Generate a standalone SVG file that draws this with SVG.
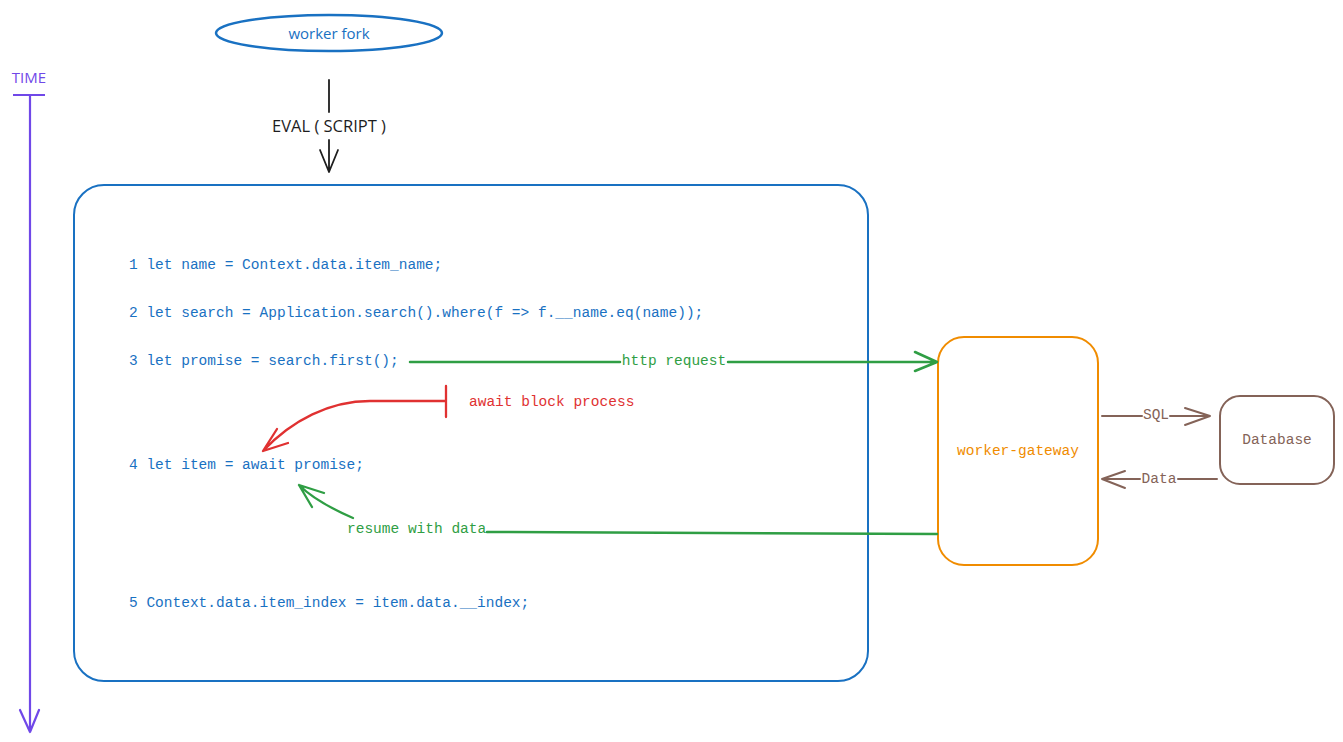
<svg xmlns="http://www.w3.org/2000/svg" width="1343" height="742" viewBox="0 0 1343 742">
<style>
.code{font-family:"Liberation Mono","DejaVu Sans Mono",monospace;font-size:14.5px}
.sans{font-family:"Open Sans","Noto Sans",sans-serif}
.blue{fill:#1971c2}
.ln{fill:none;stroke-linecap:round;stroke-linejoin:round}
</style>
<rect width="1343" height="742" fill="#ffffff"/>
<g id="time">
<text x="29" y="83" class="sans" font-size="15" fill="#7048e8" text-anchor="middle">TIME</text>
<line x1="13" y1="95" x2="45" y2="95" stroke="#7048e8" stroke-width="2"/>
<path class="ln" d="M30 95 L30 732 M20 710 L30 732 L39 710" stroke="#7048e8" stroke-width="2.2"/>
</g>
<g id="worker-fork">
<ellipse cx="329" cy="33" rx="113" ry="18" fill="none" stroke="#1971c2" stroke-width="2.5"/>
<text x="329" y="38.5" class="sans blue" font-size="15" text-anchor="middle">worker fork</text>
</g>
<g id="script-box">
<rect x="74" y="185" width="794" height="496" rx="30" fill="none" stroke="#1971c2" stroke-width="2"/>
<text x="129" y="269" class="code blue">1 let name = Context.data.item_name;</text>
<text x="129" y="317" class="code blue">2 let search = Application.search().where(f =&gt; f.__name.eq(name));</text>
<text x="129" y="365" class="code blue">3 let promise = search.first();</text>
<text x="129" y="469" class="code blue">4 let item = await promise;</text>
<text x="129" y="607" class="code blue">5 Context.data.item_index = item.data.__index;</text>
</g>
<g id="worker-gateway">
<rect x="938" y="337" width="160" height="228" rx="26" fill="none" stroke="#f08c00" stroke-width="2"/>
<text x="1018" y="455" class="code" fill="#f08c00" text-anchor="middle">worker-gateway</text>
</g>
<g id="database">
<rect x="1220" y="396" width="114" height="88" rx="20" fill="none" stroke="#846358" stroke-width="2"/>
<text x="1277" y="444" class="code" fill="#846358" text-anchor="middle">Database</text>
</g>
<g id="connectors">
<path class="ln" d="M329 80 L329 112 M329 140 L329 172 M320 150 L329 172 L338 150" stroke="#1e1e1e" stroke-width="1.8"/>
<text x="329" y="132" class="sans" font-size="16.5" fill="#1e1e1e" text-anchor="middle">EVAL ( SCRIPT )</text>
<path class="ln" d="M410 362 L620 362 M728 362 L937 362 M915 352 L937 362 L915 371" stroke="#2f9e44" stroke-width="2.5"/>
<text x="674" y="365" class="code" fill="#2f9e44" text-anchor="middle">http request</text>
<path class="ln" d="M446 386 L446 417 M446 401 L370 401 C330 401 292 420 263 451 M277 429 L263 451 L288 443" stroke="#e03131" stroke-width="2.3"/>
<text x="469" y="406" class="code" fill="#e03131">await block process</text>
<path class="ln" d="M937 534 L487 532" stroke="#2f9e44" stroke-width="2.5"/>
<path class="ln" d="M353 518 C330 508 312 498 299 485 M312 507 L299 485 L324 493" stroke="#2f9e44" stroke-width="2.3"/>
<text x="347" y="533" class="code" fill="#2f9e44">resume with data</text>
<path class="ln" d="M1102 416 L1142 416 M1170 416 L1210 416 M1185 408 L1210 416 L1185 425" stroke="#846358" stroke-width="2"/>
<text x="1156" y="419" class="code" fill="#846358" text-anchor="middle">SQL</text>
<path class="ln" d="M1217 479 L1178 479 M1140 479 L1102 479 M1125 471 L1102 479 L1125 488" stroke="#846358" stroke-width="2"/>
<text x="1159" y="483" class="code" fill="#846358" text-anchor="middle">Data</text>
</g>
</svg>
